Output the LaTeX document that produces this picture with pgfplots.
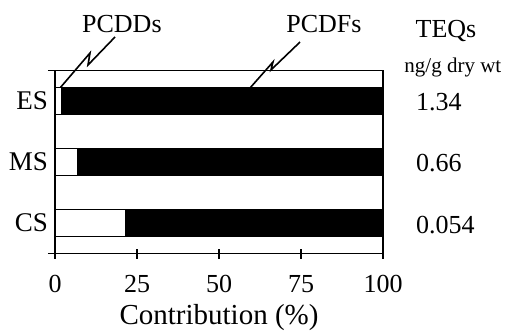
\documentclass[border=0pt]{standalone}
\usepackage{pgfplots}
\pgfplotsset{compat=1.18}
\usepackage{fontspec}
\setmainfont{Liberation Serif}
\begin{document}
\begin{tikzpicture}
\begin{axis}[
  scale only axis,
  width=328pt, height=183pt,
  xbar stacked,
  bar width=27pt,
  xmin=0, xmax=100,
  ymin=0.5, ymax=3.5,
  y dir=reverse,
  xtick={0,25,50,75,100},
  xtick pos=bottom,
  ytick={1,2,3},
  yticklabels={ES,MS,CS},
  major y tick style={draw=none},
  tick align=center,
  major tick length=10pt,
  axis line style={line width=1.6pt},
  every tick/.style={line width=1.6pt, black},
  tick label style={font=\fontsize{26}{30}\selectfont},
  yticklabel style={font=\fontsize{27}{31}\selectfont, anchor=east, inner sep=0pt, xshift=-2pt},
  /pgf/number format/assume math mode=true,
  xticklabel style={anchor=base, yshift=-34pt},
  xlabel={Contribution (\%)},
  xlabel style={font=\fontsize{29}{33}\selectfont, at={(axis description cs:0.5,-0.35)}, anchor=center},
  clip=false,
]
\addplot[fill=white, draw=black, line width=1pt] coordinates {(2,1) (7,2) (21.5,3)};
\addplot[fill=black, draw=black, line width=1pt] coordinates {(98,1) (93,2) (78.5,3)};
% axis line extensions past the corners
\draw[line width=1.6pt] (axis cs:-2.2,0.5) -- (axis cs:0,0.5);
\draw[line width=1.6pt] (axis cs:-2.2,3.5) -- (axis cs:0,3.5);
% lightning pointers
\draw[line width=1.6pt] (axis cs:1.52,0.787) -- (axis cs:10.67,0.213) -- (axis cs:10.06,0.41) -- (axis cs:18.3,-0.05);
\draw[line width=1.6pt] (axis cs:59.45,0.787) -- (axis cs:66.46,0.36) -- (axis cs:65.85,0.49) -- (axis cs:74.7,0.033);
\node[anchor=base, font=\fontsize{26}{30}\selectfont] at (axis cs:20.4,-0.131) {PCDDs};
\node[anchor=base, font=\fontsize{26}{30}\selectfont] at (axis cs:82.0,-0.115) {PCDFs};
\node[anchor=base, font=\fontsize{26}{30}\selectfont] at (axis cs:119.2,-0.049) {TEQs};
\node[anchor=base, font=\fontsize{21}{24}\selectfont] at (axis cs:121.3,0.525) {ng/g dry wt};
\node[anchor=west, inner sep=0pt, font=\fontsize{26}{30}\selectfont] at (axis cs:110.06,1.016) {1.34};
\node[anchor=west, inner sep=0pt, font=\fontsize{26}{30}\selectfont] at (axis cs:110.06,2.016) {0.66};
\node[anchor=west, inner sep=0pt, font=\fontsize{26}{30}\selectfont] at (axis cs:110.06,3.03) {0.054};
\path (axis cs:-16.77,-0.656) rectangle (axis cs:137.5,4.738);
\end{axis}
\end{tikzpicture}
\end{document}
